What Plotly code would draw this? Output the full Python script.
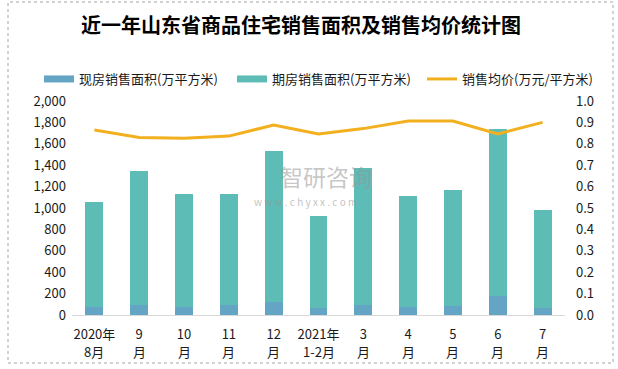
import plotly.graph_objects as go

label_line1 = ["2020年", "9", "10", "11", "12", "2021年", "3", "4", "5", "6", "7"]
label_line2 = ["8月", "月", "月", "月", "月", "1-2月", "月", "月", "月", "月", "月"]
categories = [a + b for a, b in zip(label_line1, label_line2)]
spot_area = [78, 94, 75, 94, 122, 69, 94, 75, 84, 178, 69]          # 现房销售面积
total_area = [1060, 1350, 1131, 1133, 1537, 928, 1378, 1115, 1170, 1743, 981]
future_area = [t - s for t, s in zip(total_area, spot_area)]        # 期房销售面积
avg_price = [0.864, 0.830, 0.826, 0.836, 0.888, 0.846, 0.871, 0.906, 0.906, 0.846, 0.900]

names = ["现房销售面积(万平方米)", "期房销售面积(万平方米)", "销售均价(万元/平方米)"]
colors = ["#64A4C4", "#5EBCB6", "#F2B01E"]

FONT = "Noto Sans CJK SC"
fig = go.Figure()
fig.add_trace(go.Bar(x=categories, y=spot_area, name=names[0], showlegend=False,
                     marker=dict(color=colors[0], line=dict(width=0))))
fig.add_trace(go.Bar(x=categories, y=future_area, name=names[1], showlegend=False,
                     marker=dict(color=colors[1], line=dict(width=0))))
fig.add_trace(go.Scatter(x=categories, y=avg_price, name=names[2], yaxis="y2",
                         legend="legend3", mode="lines", line=dict(color=colors[2], width=3)))
# legend keys for the bar series (wide flat swatches like the original)
fig.add_trace(go.Scatter(x=[None], y=[None], name=names[0], legend="legend", mode="lines",
                         line=dict(color=colors[0], width=7), hoverinfo="skip"))
fig.add_trace(go.Scatter(x=[None], y=[None], name=names[1], legend="legend2", mode="lines",
                         line=dict(color=colors[1], width=7), hoverinfo="skip"))

W, H = 618, 369
L, R, T, B = 72, 565, 101, 315
pw, ph = R - L, B - T

def px(x):
    return (x - L) / pw

def py(y):
    return (B - y) / ph

def leg(xpix):
    return dict(orientation="h", x=px(xpix), y=py(79), xanchor="left", yanchor="middle",
                font=dict(size=13, family=FONT, color="#1a1a1a"), itemwidth=30,
                bgcolor="rgba(0,0,0,0)", borderwidth=0)

annotations = [
    dict(text="智研咨询", xref="paper", yref="paper", x=px(326), y=py(176), showarrow=False,
         font=dict(size=23, color="rgba(150,150,150,0.55)", family=FONT)),
    dict(text="w w w . c h y x x . c o m", xref="paper", yref="paper", x=px(305), y=py(201),
         showarrow=False, font=dict(size=10, color="rgba(150,150,150,0.6)", family=FONT)),
]
# second line of the category labels
for cat, txt in zip(categories, label_line2):
    annotations.append(dict(text=txt, xref="x", yref="paper", x=cat, y=py(351),
                            xanchor="center", yanchor="middle", showarrow=False,
                            font=dict(size=13, family=FONT, color="#1a1a1a")))

fig.update_layout(
    width=W, height=H,
    margin=dict(l=L, r=W - R, t=T, b=H - B, autoexpand=False),
    paper_bgcolor="white", plot_bgcolor="white",
    barmode="stack", bargap=0.6,
    font=dict(family=FONT, size=13, color="#1a1a1a"),
    showlegend=True,
    legend=leg(39), legend2=leg(232), legend3=leg(422),
    title=dict(text="<b>近一年山东省商品住宅销售面积及销售均价统计图</b>", x=0.487, xanchor="center",
               y=1 - 26 / H, yanchor="middle", font=dict(size=20, family=FONT, color="#000000")),
    xaxis=dict(showgrid=False, showline=True, linecolor="#d9d9d9", linewidth=1, ticks="",
               tickmode="array", tickvals=categories, ticktext=label_line1,
               tickfont=dict(size=13), tickangle=0, automargin=False, ticklabelstandoff=7),
    yaxis=dict(range=[0, 2000], dtick=200, tickformat=",d", showgrid=False, zeroline=False,
               showline=False, ticks="", tickfont=dict(size=13), automargin=False,
               ticklabelstandoff=5),
    yaxis2=dict(range=[0, 1.0], dtick=0.1, tickformat=".1f", overlaying="y", side="right",
                showgrid=False, zeroline=False, showline=False, ticks="", tickfont=dict(size=13),
                automargin=False, ticklabelstandoff=10),
    shapes=[dict(type="rect", xref="paper", yref="paper",
                 x0=px(8), x1=px(613), y0=py(363), y1=py(2),
                 line=dict(color="#a6a6a6", width=1, dash="dot"), layer="below")],
    annotations=annotations,
)

fig.write_html("out.html", config={"displayModeBar": False},
               post_script="document.body.style.margin='0';document.body.style.overflow='hidden';")
